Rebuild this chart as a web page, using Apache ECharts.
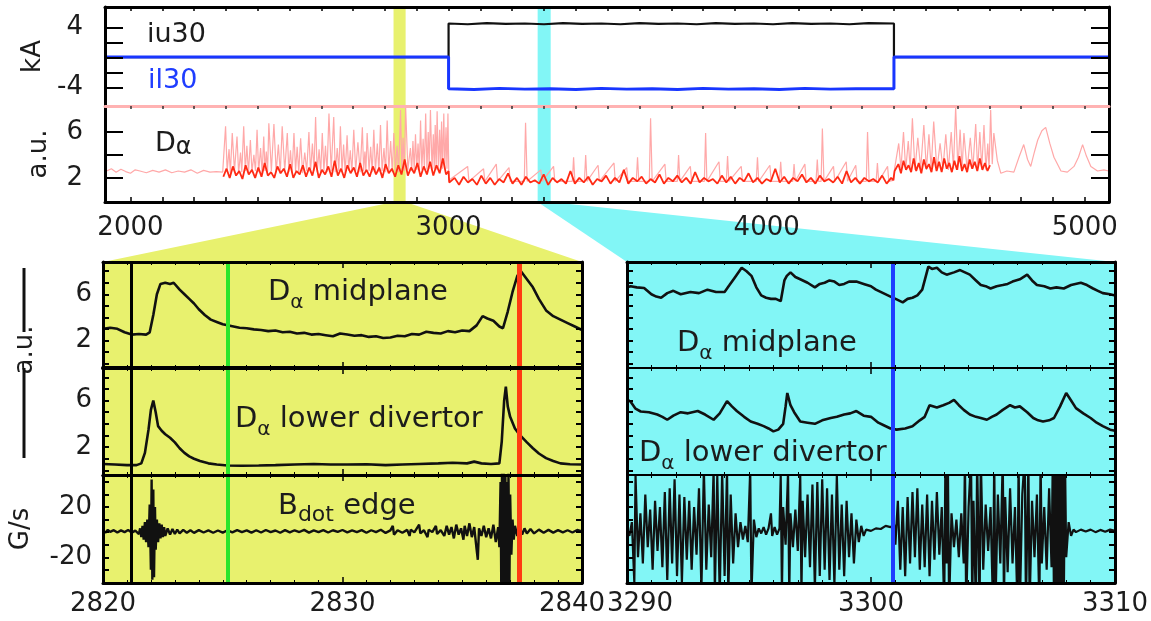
<!DOCTYPE html>
<html><head><meta charset="utf-8">
<script src="https://cdn.jsdelivr.net/npm/echarts@6/dist/echarts.min.js"></script>
<style>html,body{margin:0;padding:0;background:#fff}#c{width:1151px;height:621px}</style>
</head><body><div id="c"></div>
<script>
// ---------------- DATA ----------------
const topXTicks = [2000,2100,2200,2300,2400,2500,2600,2700,2800,2900,3000,3100,3200,3300,3400,3500,3600,3700,3800,3900,4000,4100,4200,4300,4400,4500,4600,4700,4800,4900,5000];
const topXLabels = [2000,3000,4000,5000];
const kaTicks = [-4,-2,0,2,4];
const kaLabels = [-4,4];
const daTopTicks = [2,4,6];
const daTopLabels = [2,6];
const daLowTicks = [0,1,2,3,4,5,6,7,8];
const daLowLabels = [2,6];
const bdTicks = [-40,-30,-20,-10,0,10,20,30,40];
const bdLabels = [-20,20];

const yellowBand = [2827, 2865];
const cyanBand = [3280, 3321];
const markersLeft = [2821.2, 2825.2, 2837.4];
const markersRight = [3300.9];

const iu30 = [[1920,0],[3000,0],[3000,4.5],[3060,4.4],[3120,4.55],[3180,4.45],[3240,4.5],[3300,4.4],[3360,4.55],[3420,4.45],[3480,4.5],[3540,4.4],[3600,4.55],[3660,4.45],[3720,4.5],[3780,4.4],[3840,4.55],[3900,4.45],[3960,4.5],[4020,4.4],[4080,4.55],[4140,4.45],[4200,4.5],[4260,4.4],[4320,4.55],[4400,4.5],[4400,0],[5076,0]];
const il30 = [[1920,0.05],[3000,0.05],[3000,-4.2],[3080,-4.3],[3160,-4.15],[3240,-4.25],[3320,-4.2],[3400,-4.3],[3480,-4.15],[3560,-4.25],[3640,-4.2],[3720,-4.3],[3800,-4.15],[3880,-4.25],[3960,-4.2],[4040,-4.3],[4120,-4.15],[4200,-4.25],[4280,-4.2],[4400,-4.2],[4400,0.05],[5076,0.05]];

const daTopLight = [
[1925,2.6],[1940,2.8],[1955,2.5],[1970,2.75],[1985,2.55],[2000,2.4],[2015,2.7],[2030,2.6],[2050,2.45],[2070,2.65],[2090,2.5],[2110,2.7],[2130,2.45],[2150,2.6],[2170,2.5],[2190,2.7],[2210,2.4],[2230,2.65],[2250,2.5],[2270,2.55],
[2290,2.5],[2299,6.5],[2304,2.6],[2310,4.5],[2314,2.4],[2320,5.9],[2327,2.6],[2335,5.6],[2340,2.4],[2346,4.2],[2350,2.5],[2356,6.5],[2361,2.6],[2366,4.8],[2371,2.4],[2377,5.3],[2382,2.5],[2388,4.0],[2393,2.6],[2398,6.2],[2403,2.5],[2409,4.6],[2414,2.4],[2419,5.6],[2423,2.6],[2427,4.3],[2431,2.5],[2435,6.75],[2443,2.6],[2451,6.7],[2458,2.5],[2465,4.9],[2471,2.4],[2477,6.5],[2485,2.6],[2493,5.9],[2498,2.5],[2503,4.4],[2508,2.4],[2514,5.9],[2519,2.6],[2524,4.7],[2529,2.5],[2535,5.45],[2541,2.4],[2548,4.2],[2554,2.6],[2561,6.0],[2566,2.5],[2572,5.0],[2577,2.6],[2582,7.3],[2587,2.5],[2593,4.5],[2598,2.4],[2603,5.9],[2608,2.6],[2613,4.8],[2618,2.5],[2624,7.6],[2631,2.6],[2639,7.3],[2644,2.5],[2650,4.6],[2655,2.6],[2660,6.5],[2665,2.5],[2670,4.9],[2675,2.4],[2681,5.7],[2686,2.6],[2691,4.4],[2696,2.5],[2702,6.2],[2708,2.6],[2715,5.1],[2722,2.5],[2729,6.4],[2733,2.6],[2737,4.3],[2740,2.5],[2744,5.9],[2750,2.6],[2755,4.7],[2760,2.5],[2765,6.2],[2770,2.6],[2776,5.0],[2781,2.5],[2786,6.6],[2791,2.6],[2797,4.6],[2802,2.5],[2807,7.0],[2812,2.6],[2818,5.2],[2823,2.5],[2828,5.9],[2833,2.6],[2838,4.8],[2843,2.5],[2849,7.9],[2853,2.7],[2857,5.5],[2861,2.6],[2865,8.2],[2872,2.7],[2880,4.6],[2884,2.6],[2888,5.2],[2892,2.7],[2896,5.8],[2900,2.7],[2904,5.0],[2908,2.6],[2912,7.0],[2916,2.7],[2920,5.4],[2924,2.8],[2928,7.6],[2932,2.7],[2936,6.0],[2939,2.8],[2943,7.9],[2948,2.7],[2952,5.8],[2955,2.8],[2958,6.6],[2961,2.7],[2964,7.8],[2968,2.8],[2972,6.2],[2975,2.7],[2978,6.9],[2981,2.8],[2985,7.6],[2988,2.7],[2992,6.4],[2995,2.8],[2998,7.6],[3001,1.8],
[3060,3.0],[3064,1.7],[3110,2.8],[3114,1.7],[3150,3.2],[3154,1.7],[3190,2.9],[3194,1.7],[3238,1.7],[3242,6.8],[3247,1.7],[3290,2.7],[3294,1.7],[3330,3.0],[3334,1.7],[3389,1.7],[3393,3.8],[3397,1.7],[3427,1.7],[3431,4.0],[3435,1.7],[3470,3.1],[3474,1.7],[3520,3.3],[3524,1.7],[3560,2.9],[3564,1.7],[3590,1.7],[3594,3.8],[3598,1.7],[3631,1.7],[3635,7.2],[3640,1.7],[3680,3.2],[3684,1.7],[3719,1.7],[3723,4.0],[3727,1.7],[3760,3.0],[3764,1.7],[3804,1.7],[3808,5.9],[3812,1.7],[3850,3.4],[3854,1.7],[3873,1.7],[3877,3.9],[3881,1.7],[3920,3.0],[3924,1.7],[3967,1.7],[3971,3.8],[3975,1.7],[4010,3.1],[4014,1.7],[4040,1.7],[4044,3.4],[4048,1.7],[4082,1.7],[4086,3.2],[4090,1.7],[4120,3.2],[4124,1.7],[4155,1.7],[4159,3.6],[4163,1.7],[4171,1.7],[4175,6.3],[4180,1.7],[4210,3.0],[4214,1.7],[4250,3.4],[4254,1.7],[4280,3.1],[4284,1.7],[4313,1.7],[4317,6.0],[4322,1.7],[4344,1.7],[4348,3.3],[4352,1.7],[4380,3.0],[4384,1.7],[4400,1.8],
[4402,2.8],[4415,5.0],[4422,2.8],[4430,6.0],[4437,2.7],[4445,5.2],[4451,2.8],[4458,7.2],[4466,2.7],[4475,5.5],[4484,2.8],[4494,6.6],[4502,2.7],[4510,5.8],[4517,2.8],[4525,6.9],[4535,2.7],[4545,5.0],[4554,2.8],[4563,5.8],[4571,2.7],[4580,6.0],[4587,2.8],[4594,8.2],[4601,2.7],[4608,6.2],[4614,2.8],[4620,5.9],[4630,2.7],[4640,5.5],[4648,2.8],[4657,6.7],[4663,2.7],[4670,6.0],[4676,2.8],[4683,6.6],[4689,2.7],[4695,5.0],[4699,2.8],[4704,7.9],[4709,3.2],
[4714,5.9],[4725,3.5],[4736,2.4],[4755,2.6],[4777,2.5],[4793,3.8],[4808,4.9],[4820,3.6],[4830,3.0],[4842,4.3],[4852,5.3],[4865,6.1],[4877,6.4],[4890,5.0],[4903,3.8],[4925,2.6],[4945,2.5],[4966,3.0],[4980,3.8],[4993,4.9],[5005,3.9],[5019,3.0],[5040,2.6],[5060,2.7],[5075,2.6]
];

const daTopBase = [
[2292,2.1],[2302,2.8],[2312,2.0],[2322,3.0],[2332,2.2],[2342,2.6],[2352,1.9],[2362,3.1],[2372,2.3],[2382,2.7],[2392,2.0],[2402,2.9],[2412,2.1],[2422,3.3],[2432,2.2],[2442,2.5],[2452,2.0],[2462,3.0],[2472,2.4],[2482,2.8],[2492,2.1],[2502,3.2],[2512,2.0],[2522,2.6],[2532,2.3],[2542,3.1],[2552,2.1],[2562,2.9],[2572,2.2],[2582,3.4],[2592,2.0],[2602,2.7],[2612,2.3],[2622,3.0],[2632,2.1],[2642,3.5],[2652,2.2],[2662,2.8],[2672,2.0],[2682,3.1],[2692,2.4],[2702,2.9],[2712,2.1],[2722,3.3],[2732,2.2],[2742,2.7],[2752,2.1],[2762,3.0],[2772,2.3],[2782,2.9],[2792,2.0],[2802,3.2],[2812,2.4],[2822,2.8],[2832,2.1],[2842,3.1],[2852,2.3],[2862,3.6],[2872,2.2],[2882,2.9],[2892,2.4],[2902,3.3],[2912,2.1],[2922,3.0],[2932,2.3],[2942,3.4],[2952,2.2],[2962,3.1],[2972,2.4],[2982,3.7],[2992,2.3],[3000,2.6],[3002,1.6],
[3005,1.5],[3019,2.0],[3033,1.4],[3047,2.1],[3061,1.6],[3075,1.9],[3089,1.4],[3103,2.2],[3117,1.5],[3131,2.0],[3145,1.4],[3159,1.9],[3173,1.6],[3187,2.4],[3201,1.5],[3215,2.0],[3229,1.4],[3243,2.1],[3257,1.6],[3271,1.8],[3285,1.5],[3299,2.3],[3313,1.4],[3327,2.0],[3341,1.6],[3355,1.9],[3369,1.5],[3383,2.6],[3397,1.5],[3411,2.0],[3425,1.6],[3439,2.1],[3453,1.4],[3467,1.9],[3481,1.7],[3495,2.2],[3509,1.5],[3523,2.0],[3537,1.6],[3551,2.7],[3565,1.5],[3579,2.0],[3593,1.7],[3607,2.1],[3621,1.5],[3635,1.9],[3649,1.6],[3663,2.3],[3677,1.5],[3691,2.0],[3705,1.7],[3719,2.2],[3733,1.6],[3747,2.0],[3761,1.5],[3775,2.5],[3789,1.6],[3803,2.0],[3817,1.7],[3831,1.9],[3845,1.5],[3859,2.2],[3873,1.6],[3887,2.1],[3901,1.5],[3915,2.0],[3929,1.7],[3943,2.4],[3957,1.6],[3971,2.0],[3985,1.5],[3999,1.9],[4013,1.7],[4027,2.8],[4041,1.6],[4055,2.1],[4069,1.5],[4083,2.0],[4097,1.7],[4111,2.3],[4125,1.6],[4139,2.0],[4153,1.5],[4167,2.2],[4181,1.7],[4195,1.9],[4209,1.6],[4223,2.1],[4237,1.5],[4251,2.6],[4265,1.6],[4279,2.0],[4293,1.5],[4307,2.0],[4321,1.7],[4335,1.9],[4349,1.6],[4363,2.2],[4377,1.5],[4391,2.0],[4398,1.8],[4402,2.6],
[4406,2.5],[4414,3.2],[4422,2.4],[4430,3.5],[4438,2.7],[4446,3.1],[4454,2.5],[4462,3.7],[4470,2.6],[4478,3.3],[4486,2.4],[4494,3.6],[4502,2.8],[4510,3.2],[4518,2.5],[4526,3.8],[4534,2.6],[4542,3.4],[4550,2.5],[4558,3.7],[4566,2.8],[4574,3.3],[4582,2.5],[4590,3.5],[4598,2.7],[4606,3.9],[4614,2.6],[4622,3.2],[4630,2.5],[4638,3.6],[4646,2.8],[4654,3.4],[4662,2.6],[4670,3.7],[4678,2.7],[4686,3.3],[4694,2.6],[4702,3.1]
];

const midLeft = [[2820.0,3.0],[2820.3,3.1],[2820.6,3.0],[2820.9,2.7],[2821.2,2.5],[2821.5,2.55],[2821.8,2.5],[2821.95,2.7],[2822.1,4.2],[2822.25,6.0],[2822.4,6.9],[2822.6,7.0],[2822.8,6.9],[2822.95,7.0],[2823.2,6.4],[2823.4,6.0],[2823.6,5.6],[2823.8,5.2],[2824.0,4.7],[2824.25,4.2],[2824.5,3.8],[2824.75,3.6],[2825.0,3.4],[2825.35,3.25],[2825.7,3.1],[2826.0,3.05],[2826.3,2.95],[2826.6,2.9],[2826.9,2.8],[2827.2,2.85],[2827.5,2.7],[2827.8,2.75],[2828.1,2.6],[2828.4,2.65],[2828.7,2.5],[2829.0,2.55],[2829.3,2.45],[2829.6,2.35],[2829.9,2.6],[2830.2,2.5],[2830.5,2.4],[2830.8,2.45],[2831.1,2.3],[2831.4,2.35],[2831.7,2.2],[2832.0,2.25],[2832.3,2.4],[2832.6,2.35],[2832.9,2.55],[2833.2,2.5],[2833.5,2.75],[2833.8,2.65],[2834.1,2.6],[2834.4,2.8],[2834.7,2.7],[2835.0,2.85],[2835.3,2.8],[2835.6,3.3],[2835.85,4.1],[2836.05,3.9],[2836.3,3.7],[2836.55,3.2],[2836.7,3.05],[2836.9,4.5],[2837.1,6.2],[2837.3,7.6],[2837.45,8.0],[2837.7,7.3],[2837.95,6.6],[2838.2,5.6],[2838.5,4.6],[2838.8,4.1],[2839.1,3.8],[2839.4,3.5],[2839.7,3.2],[2840.0,2.9]];

const divLeft = [[2820.0,0.55],[2820.5,0.5],[2821.0,0.45],[2821.4,0.45],[2821.6,0.6],[2821.75,1.5],[2821.9,3.5],[2822.0,5.2],[2822.1,6.0],[2822.2,5.0],[2822.3,3.8],[2822.45,3.4],[2822.6,3.1],[2822.8,2.8],[2823.0,2.4],[2823.2,1.9],[2823.4,1.5],[2823.6,1.2],[2823.8,1.0],[2824.05,0.8],[2824.4,0.6],[2824.75,0.5],[2825.2,0.42],[2825.8,0.4],[2826.5,0.42],[2827.2,0.45],[2828,0.5],[2828.8,0.55],[2829.5,0.5],[2830.2,0.5],[2831,0.52],[2831.8,0.45],[2832.5,0.5],[2833.2,0.55],[2834,0.6],[2834.6,0.65],[2835.2,0.6],[2835.5,0.75],[2835.8,0.6],[2836.2,0.55],[2836.55,0.6],[2836.65,2.5],[2836.75,6.0],[2836.82,7.2],[2836.9,5.5],[2837.0,4.6],[2837.2,3.6],[2837.4,3.05],[2837.7,2.4],[2837.95,1.9],[2838.2,1.45],[2838.5,1.05],[2838.8,0.8],[2839.1,0.6],[2839.5,0.52],[2840,0.5]];

const bdotLeft = [[2820.0,1.5],[2820.1,-0.5],[2820.2,1.8],[2820.3,0.2],[2820.45,1.6],[2820.6,-0.3],[2820.75,1.4],[2820.9,0],[2821.05,1.7],[2821.2,-0.4],[2821.35,1.2],[2821.5,-1.5],[2821.55,3],[2821.6,-4],[2821.65,5],[2821.7,-6],[2821.75,8],[2821.8,-8],[2821.85,10],[2821.9,-12],[2821.95,22],[2822.0,-30],[2822.03,42],[2822.06,-38],[2822.1,34],[2822.13,-36],[2822.17,20],[2822.2,-14],[2822.25,10],[2822.3,-8],[2822.35,7],[2822.4,-5],[2822.45,6],[2822.5,-4],[2822.55,4],[2822.6,-3],[2822.7,3],[2822.8,-2],[2822.9,2.5],[2823.0,-1.5],[2823.1,2],[2823.2,-1],[2823.35,1.8],[2823.5,-0.5],[2823.65,1.5],[2823.8,-0.6],[2824,1.6],[2824.2,-0.3],[2824.4,1.4],[2824.6,-0.5],[2824.8,1.3],[2825,-0.4],[2825.2,1.5],[2825.4,-0.2],[2825.6,1.6],[2825.8,0],[2826,1.4],[2826.2,-0.4],[2826.4,1.5],[2826.6,-0.3],[2826.8,1.7],[2827,0],[2827.2,1.3],[2827.4,-0.5],[2827.6,1.6],[2827.8,-0.2],[2828,1.5],[2828.2,0.1],[2828.4,1.8],[2828.6,-0.4],[2828.8,1.4],[2829,0],[2829.2,1.6],[2829.4,-0.3],[2829.6,1.5],[2829.8,0.2],[2830,1.7],[2830.2,-0.2],[2830.4,1.4],[2830.6,0],[2830.8,1.6],[2831,-0.5],[2831.2,1.5],[2831.4,0],[2831.6,1.9],[2831.8,-0.6],[2832,1.4],[2832.1,5],[2832.15,-2],[2832.3,1.5],[2832.5,-0.5],[2832.7,1.8],[2832.8,-3],[2832.85,2],[2833.0,-0.2],[2833.2,6],[2833.25,-1],[2833.4,1.5],[2833.55,-4],[2833.6,2],[2833.75,0],[2833.9,5],[2833.95,-1.5],[2834.1,1.6],[2834.25,-3],[2834.35,5],[2834.45,-2],[2834.55,4],[2834.65,-5],[2834.75,6],[2834.85,-2],[2834.95,3],[2835.05,-6],[2835.1,5],[2835.2,-3],[2835.3,7],[2835.4,-4],[2835.5,4],[2835.6,-14],[2835.65,-22],[2835.7,3],[2835.8,-3],[2835.9,5],[2836.0,-4],[2836.1,3],[2836.2,-5],[2836.3,6],[2836.4,-8],[2836.5,4],[2836.55,-12],[2836.6,40],[2836.63,-45],[2836.66,48],[2836.7,-48],[2836.73,50],[2836.77,-48],[2836.8,46],[2836.83,-42],[2836.87,40],[2836.9,-46],[2836.93,48],[2836.97,-40],[2837.0,30],[2837.05,-18],[2837.1,10],[2837.15,-6],[2837.2,5],[2837.3,-3],[2837.4,4],[2837.5,-2],[2837.6,3],[2837.7,-1],[2837.85,2.5],[2838.0,-1],[2838.2,2],[2838.4,-0.5],[2838.6,1.8],[2838.8,-0.4],[2839,1.6],[2839.2,-0.2],[2839.4,1.5],[2839.6,-0.3],[2839.8,1.7],[2840,0.5]];

const midRight = [[3290.0,6.6],[3290.15,6.7],[3290.4,6.6],[3290.7,6.55],[3291.0,6.0],[3291.2,5.8],[3291.4,5.7],[3291.65,6.1],[3291.9,6.3],[3292.2,6.0],[3292.6,6.2],[3292.95,6.1],[3293.3,6.4],[3293.65,6.2],[3294.0,6.2],[3294.2,6.8],[3294.4,7.4],[3294.7,8.3],[3294.9,8.0],[3295.1,7.6],[3295.3,6.6],[3295.5,5.9],[3295.7,5.7],[3295.9,5.6],[3296.1,5.6],[3296.3,5.4],[3296.45,7.2],[3296.55,7.6],[3296.7,7.9],[3296.9,7.5],[3297.1,7.3],[3297.4,7.0],[3297.7,6.6],[3297.9,6.9],[3298.1,7.0],[3298.3,7.2],[3298.5,7.1],[3298.7,6.8],[3298.9,6.9],[3299.1,7.1],[3299.4,7.1],[3299.7,6.9],[3300.0,6.7],[3300.2,6.4],[3300.5,6.1],[3300.8,5.8],[3301.05,5.55],[3301.3,5.3],[3301.5,5.6],[3301.7,5.7],[3301.9,5.9],[3302.1,6.4],[3302.25,7.6],[3302.35,8.4],[3302.5,8.2],[3302.7,8.3],[3302.9,7.9],[3303.1,7.7],[3303.4,7.9],[3303.65,8.1],[3303.85,7.9],[3304.05,7.7],[3304.3,7.2],[3304.5,6.8],[3304.7,6.7],[3304.9,6.5],[3305.15,6.7],[3305.4,6.8],[3305.6,6.9],[3305.8,7.1],[3306.1,7.3],[3306.4,7.7],[3306.6,7.2],[3306.8,6.8],[3307.1,6.7],[3307.35,6.5],[3307.6,6.6],[3307.9,6.5],[3308.2,6.8],[3308.6,7.0],[3308.85,6.8],[3309.1,6.5],[3309.3,6.3],[3309.5,6.1],[3309.8,6.0],[3310,5.9]];

const divRight = [[3290.0,6.1],[3290.15,5.9],[3290.35,5.3],[3290.56,5.06],[3290.9,5.0],[3291.24,4.8],[3291.45,4.6],[3291.65,4.35],[3291.9,4.7],[3292.2,5.0],[3292.5,4.9],[3292.9,5.1],[3293.2,4.8],[3293.55,4.35],[3293.8,4.9],[3294.1,5.95],[3294.3,5.5],[3294.5,5.1],[3294.8,4.6],[3295.07,4.2],[3295.35,4.0],[3295.6,3.8],[3295.8,3.6],[3296.0,3.35],[3296.2,3.5],[3296.4,4.0],[3296.5,5.5],[3296.57,6.65],[3296.7,5.6],[3296.85,5.0],[3297.1,4.2],[3297.4,4.1],[3297.7,4.0],[3298.0,4.3],[3298.35,4.5],[3298.6,4.6],[3298.9,4.8],[3299.15,4.9],[3299.4,5.1],[3299.7,4.7],[3300.0,4.6],[3300.3,4.1],[3300.5,3.9],[3300.8,3.6],[3301.05,3.5],[3301.4,3.6],[3301.7,3.8],[3302.0,4.3],[3302.2,4.6],[3302.4,5.6],[3302.7,5.4],[3302.96,5.6],[3303.2,5.8],[3303.4,6.05],[3303.6,5.6],[3303.8,5.2],[3304.05,4.8],[3304.3,4.6],[3304.5,4.5],[3304.75,4.35],[3304.95,4.6],[3305.15,4.8],[3305.4,5.2],[3305.7,5.6],[3305.9,5.4],[3306.1,5.5],[3306.4,5.0],[3306.65,4.5],[3306.85,4.3],[3307.05,4.2],[3307.3,4.3],[3307.5,4.5],[3307.75,5.5],[3308.0,6.65],[3308.2,6.0],[3308.4,5.35],[3308.7,4.9],[3309.0,4.5],[3309.25,4.1],[3309.5,3.8],[3309.8,3.5],[3310,3.4]];

const bdotRight = [[3290.0,2],[3290.1,-3],[3290.2,8],[3290.3,-40],[3290.35,45],[3290.45,-20],[3290.55,15],[3290.65,-25],[3290.75,30],[3290.85,-12],[3290.95,18],[3291.05,-30],[3291.15,25],[3291.25,-15],[3291.35,20],[3291.45,-28],[3291.55,32],[3291.65,-38],[3291.75,35],[3291.85,-25],[3291.95,42],[3292.05,-35],[3292.15,30],[3292.25,-40],[3292.35,28],[3292.45,-22],[3292.55,25],[3292.65,-30],[3292.75,20],[3292.85,-18],[3292.95,35],[3293.05,-45],[3293.15,50],[3293.25,-30],[3293.35,22],[3293.45,-20],[3293.55,50],[3293.6,-48],[3293.7,45],[3293.8,-50],[3293.9,48],[3294.0,-35],[3294.1,50],[3294.15,-50],[3294.25,30],[3294.35,-25],[3294.45,15],[3294.55,-12],[3294.65,8],[3294.75,-6],[3294.85,5],[3294.95,-8],[3295.05,50],[3295.1,-50],[3295.2,10],[3295.3,-4],[3295.4,3],[3295.5,-1],[3295.6,4],[3295.7,-2],[3295.8,3],[3295.9,15],[3295.95,-3],[3296.05,4],[3296.15,-2],[3296.25,3],
[3296.3,45],[3296.35,-48],[3296.4,20],[3296.5,-10],[3296.6,48],[3296.65,-50],[3296.7,15],[3296.8,-12],[3296.9,18],[3297.0,-15],[3297.1,45],[3297.15,-48],[3297.2,25],[3297.3,-20],[3297.4,30],[3297.5,-28],[3297.6,38],[3297.7,-45],[3297.8,40],[3297.9,-35],[3298.0,42],[3298.1,-30],[3298.2,35],[3298.3,-38],[3298.4,30],[3298.5,-42],[3298.6,45],[3298.7,-30],[3298.8,22],[3298.9,-35],[3299.0,25],[3299.1,-20],[3299.2,15],[3299.3,-25],[3299.4,10],[3299.5,-8],[3299.6,5],[3299.7,-3],
[3299.8,2],[3300.0,1],[3300.2,3],[3300.4,2.5],[3300.6,5],[3300.8,4],[3300.95,6],
[3301.0,-10],[3301.1,25],[3301.2,-30],[3301.3,20],[3301.4,-35],[3301.5,28],[3301.6,-25],[3301.7,32],[3301.8,-20],[3301.9,35],[3302.0,-30],[3302.1,22],[3302.2,-28],[3302.3,30],[3302.4,-35],[3302.5,25],[3302.6,-22],[3302.7,32],[3302.8,-18],[3302.9,20],[3303.0,-60],[3303.05,60],[3303.1,-25],[3303.15,60],[3303.2,-60],[3303.3,15],[3303.4,-12],[3303.5,10],[3303.6,-20],[3303.7,15],[3303.8,-25],[3303.85,60],[3303.9,-60],[3304.0,20],[3304.1,60],[3304.15,-60],[3304.2,25],[3304.3,-60],[3304.35,60],[3304.45,-60],[3304.5,60],[3304.6,-30],[3304.7,22],[3304.8,-15],[3304.9,20],[3305.0,-60],[3305.05,60],[3305.1,-60],[3305.2,30],[3305.3,-25],[3305.4,60],[3305.45,-60],[3305.5,28],[3305.6,-32],[3305.7,35],[3305.8,-25],[3305.9,20],[3306.0,-60],[3306.05,60],[3306.1,-60],[3306.2,30],[3306.3,60],[3306.35,-60],[3306.45,60],[3306.5,-60],[3306.6,25],[3306.7,-20],[3306.8,30],[3306.9,-60],[3306.95,60],[3307.0,-25],[3307.1,20],[3307.2,-30],[3307.3,35],[3307.4,-28],[3307.45,60],[3307.5,-60],[3307.55,60],[3307.6,-60],[3307.65,60],[3307.7,-60],[3307.75,60],[3307.8,-60],[3307.85,60],[3307.9,-60],[3307.95,60],[3308.0,-20],[3308.1,8],[3308.2,-3],[3308.3,2],
[3308.4,0],[3308.6,2],[3308.8,0.5],[3309,2],[3309.2,0],[3309.4,1.8],[3309.6,0.3],[3309.8,2],[3310,1]];

// ---------------- LAYOUT / STYLE ----------------
const FONT = 'DejaVu Sans';
const TXT = '#1c1c1c';
const YEL = '#e8f16e', CYA = '#82f6f6';
const L = {topL:105, topR:1109, t0:7, t1:106, t2:202, lowT:[262,368,475,583], lgL:103, lgR:582, rgL:627, rgR:1115};

const chart = echarts.init(document.getElementById('c'), null, {width:1151, height:621});

function grid(left, right, top, bottom, bg) {
  return {left:left, top:top, width:right-left, height:bottom-top, show: !!bg, backgroundColor: bg || 'transparent', borderWidth:0, containLabel:false, outerBoundsMode:'none'};
}
const grids = [
  grid(L.topL, L.topR, L.t0, L.t1),
  grid(L.topL, L.topR, L.t1, L.t2),
  grid(L.lgL, L.lgR, L.lowT[0], L.lowT[1], YEL),
  grid(L.lgL, L.lgR, L.lowT[1], L.lowT[2], YEL),
  grid(L.lgL, L.lgR, L.lowT[2], L.lowT[3], YEL),
  grid(L.rgL, L.rgR, L.lowT[0], L.lowT[1], CYA),
  grid(L.rgL, L.rgR, L.lowT[1], L.lowT[2], CYA),
  grid(L.rgL, L.rgR, L.lowT[2], L.lowT[3], CYA)
];

function ax(o) {
  const base = {type:'value', splitLine:{show:false}, minorSplitLine:{show:false}, axisLabel:{show:false}, axisTick:{show:false}, minorTick:{show:false}, z:5};
  return Object.assign(base, o);
}
function line(color, width) { return {show:true, onZero:false, lineStyle:{color:color, width:width}}; }
const labStyle = {color:TXT, fontFamily:FONT, fontSize:26};
const plain = v => String(v);

const TMIN = 1920, TMAX = 5076;
const xAxes = [
  ax({gridIndex:0, min:TMIN, max:TMAX, position:'top', axisLine:line('#000',3), axisTick:{show:true, inside:true, length:4, customValues:topXTicks, lineStyle:{color:'#000', width:1.5}}}),
  ax({gridIndex:1, min:TMIN, max:TMAX, position:'bottom', axisLine:line('#000',3), axisTick:{show:true, inside:true, length:5, customValues:topXTicks, lineStyle:{color:'#000', width:1.5}}, axisLabel:Object.assign({show:true, margin:13, customValues:topXLabels, formatter:plain}, labStyle)}),
  ax({gridIndex:1, min:TMIN, max:TMAX, position:'top', axisLine:line('#ffb2b2',3), axisTick:{show:true, inside:true, length:3, customValues:topXTicks, lineStyle:{color:'#333', width:1.5}}})
];
function lowX(gi, min, max, pos, lw, labels, fmt) {
  const o = {gridIndex:gi, min:min, max:max, interval:10, position:pos, axisLine:line('#000',lw),
    axisTick:{show:true, inside:true, length:6, lineStyle:{color:'#000', width:1.5}},
    minorTick:{show:true, splitNumber:10, length:3, lineStyle:{color:'#000', width:1}}};
  if (labels) o.axisLabel = Object.assign({show:true, margin:8, formatter:fmt, rich:{l:{fontFamily:FONT, fontSize:26, color:TXT, padding:[0,0,0,26]}, r:{fontFamily:FONT, fontSize:26, color:TXT, padding:[0,20,0,0]}}}, labStyle);
  return ax(o);
}
const fmtLeft = v => v === 2840 ? '{r|2840}' : String(v);
const fmtRight = v => v === 3290 ? '{l|3290}' : String(v);
xAxes.push(
  lowX(2, 2820, 2840, 'top', 3), lowX(2, 2820, 2840, 'bottom', 4),
  lowX(3, 2820, 2840, 'top', 3), lowX(3, 2820, 2840, 'bottom', 3),
  lowX(4, 2820, 2840, 'top', 3), lowX(4, 2820, 2840, 'bottom', 3, true, fmtLeft),
  lowX(5, 3290, 3310, 'top', 3), lowX(5, 3290, 3310, 'bottom', 2),
  lowX(6, 3290, 3310, 'top', 2), lowX(6, 3290, 3310, 'bottom', 2),
  lowX(7, 3290, 3310, 'top', 2), lowX(7, 3290, 3310, 'bottom', 3, true, fmtRight)
);

function yAx(gi, min, max, pos, lw, ticks, tickLen, labels, margin, name, nameGap) {
  const o = {gridIndex:gi, min:min, max:max, position:pos, axisLine:line('#000',lw),
    axisTick:{show:true, inside:true, length:tickLen, customValues:ticks, lineStyle:{color:'#000', width:2}}};
  if (labels) o.axisLabel = Object.assign({show:true, margin:margin, customValues:labels, formatter:plain}, labStyle);
  if (name) { o.name = name; o.nameLocation = 'middle'; o.nameRotate = 90; o.nameGap = nameGap; o.nameTextStyle = {fontFamily:FONT, fontSize:26, color:TXT}; }
  return ax(o);
}
const yAxes = [
  yAx(0, -6.5, 6.7, 'left', 3, kaTicks, 18, kaLabels, 22, 'kA', 55),
  yAx(0, -6.5, 6.7, 'right', 3, kaTicks, 18),
  yAx(1, -0.1, 8.26, 'left', 3, daTopTicks, 18, daTopLabels, 22, 'a.u.', 53),
  yAx(1, -0.1, 8.26, 'right', 3, daTopTicks, 18),
  yAx(2, -0.4, 8.8, 'left', 3, daLowTicks, 6, daLowLabels, 11),
  yAx(2, -0.4, 8.8, 'right', 3, daLowTicks, 6),
  yAx(3, -0.4, 8.8, 'left', 3, daLowTicks, 6, daLowLabels, 11),
  yAx(3, -0.4, 8.8, 'right', 3, daLowTicks, 6),
  yAx(4, -40.5, 45.5, 'left', 3, bdTicks, 6, bdLabels, 11, 'G/s', 69),
  yAx(4, -40.5, 45.5, 'right', 3, bdTicks, 6),
  yAx(5, -0.4, 8.8, 'left', 3, daLowTicks, 6),
  yAx(5, -0.4, 8.8, 'right', 3, daLowTicks, 6),
  yAx(6, -0.4, 8.8, 'left', 3, daLowTicks, 6),
  yAx(6, -0.4, 8.8, 'right', 3, daLowTicks, 6),
  yAx(7, -40.5, 45.5, 'left', 3, bdTicks, 6),
  yAx(7, -40.5, 45.5, 'right', 3, bdTicks, 6)
];

function ser(data, xi, yi, color, width, z, extra) {
  return Object.assign({type:'line', data:data, xAxisIndex:xi, yAxisIndex:yi, showSymbol:false, symbol:'none', animation:false, silent:true, clip:true, z:z,
    lineStyle:{color:color, width:width}}, extra || {});
}
const leftMarkerStyles = [{color:'#000000', width:3}, {color:'#2be52b', width:4}, {color:'#ff3b12', width:5}];
const rightMarkerStyles = [{color:'#1f3dff', width:4}];
function markers(times, styles) {
  return {markLine:{silent:true, symbol:['none','none'], animation:false, label:{show:false},
    data: times.map((t, i) => ({xAxis:t, lineStyle:Object.assign({type:'solid'}, styles[i])}))}};
}
function bands(xi, yi) {
  return ser([], xi, yi, '#000', 0, 1, {markArea:{silent:true, animation:false,
    data:[[{xAxis:yellowBand[0], itemStyle:{color:YEL}}, {xAxis:yellowBand[1]}], [{xAxis:cyanBand[0], itemStyle:{color:CYA}}, {xAxis:cyanBand[1]}]]}});
}

const series = [
  bands(0, 0), bands(1, 2),
  ser(iu30, 0, 0, '#111', 2.2, 3),
  ser(il30, 0, 0, '#1836ff', 3, 4),
  ser(daTopLight, 1, 2, '#ffa8a8', 1.2, 3),
  ser(daTopBase, 1, 2, '#ff2a14', 1.8, 4),
  ser(midLeft, 4, 4, '#111', 2.6, 3, markers(markersLeft, leftMarkerStyles)),
  ser(divLeft, 6, 6, '#111', 2.6, 3, markers(markersLeft, leftMarkerStyles)),
  ser(bdotLeft, 8, 8, '#111', 2.4, 3, markers(markersLeft, leftMarkerStyles)),
  ser(midRight, 10, 10, '#111', 2.6, 3, markers(markersRight, rightMarkerStyles)),
  ser(divRight, 12, 12, '#111', 2.6, 3, markers(markersRight, rightMarkerStyles)),
  ser(bdotRight, 14, 14, '#111', 2.2, 3, markers(markersRight, rightMarkerStyles))
];

chart.setOption({animation:false, textStyle:{fontFamily:FONT}, grid:grids, xAxis:xAxes, yAxis:yAxes, series:series});

// ---------------- ANNOTATIONS & CONNECTORS ----------------
function txt(x, y, text, rich, fill) {
  return {type:'text', x:x, y:y, z:20, silent:true, style:{text:text, rich:rich, fill:fill || TXT, font:'26px "' + FONT + '"', verticalAlign:'top', align:'left'}};
}
function subRich(main, sub, subLH) {
  return {D:{fontFamily:FONT, fontSize:main, lineHeight:main, verticalAlign:'top', fill:TXT},
          a:{fontFamily:FONT, fontSize:sub, lineHeight:subLH, verticalAlign:'bottom', fill:TXT},
          t:{fontFamily:FONT, fontSize:main, lineHeight:main, verticalAlign:'top', fill:TXT}};
}
const px = v => chart.convertToPixel({xAxisIndex:1}, v);
const richLow = subRich(29, 20, 35);
const graphics = [
  {type:'polygon', z:-10, silent:true, shape:{points:[[px(yellowBand[0]), L.t2], [px(yellowBand[1]), L.t2], [L.lgR, L.lowT[0]], [L.lgL, L.lowT[0]]]}, style:{fill:YEL}},
  {type:'polygon', z:-10, silent:true, shape:{points:[[px(cyanBand[0]), L.t2], [px(cyanBand[1]), L.t2], [L.rgR, L.lowT[0]], [L.rgL, L.lowT[0]]]}, style:{fill:CYA}},
  txt(147, 21, '{t|iu30}', {t:{fontFamily:FONT, fontSize:27, fill:TXT}}),
  txt(148, 67, '{t|il30}', {t:{fontFamily:FONT, fontSize:27, fill:'#1f3dff'}}),
  txt(155, 130, '{D|D}{a|α}', subRich(27, 24, 30)),
  txt(268, 278, '{D|D}{a|α}{t| midplane}', richLow),
  txt(235, 405, '{D|D}{a|α}{t| lower divertor}', richLow),
  txt(278, 492, '{D|B}{a|dot}{t| edge}', subRich(29, 22, 34)),
  txt(677, 329, '{D|D}{a|α}{t| midplane}', richLow),
  txt(639, 439, '{D|D}{a|α}{t| lower divertor}', richLow),
  {type:'text', x:25, y:350, rotation:Math.PI/2, z:20, silent:true, style:{text:'a.u.', fill:TXT, font:'26px "' + FONT + '"', align:'center', verticalAlign:'middle'}},
  {type:'line', z:20, silent:true, shape:{x1:24, y1:268, x2:24, y2:332}, style:{stroke:'#111', lineWidth:3}},
  {type:'line', z:20, silent:true, shape:{x1:24, y1:368, x2:24, y2:458}, style:{stroke:'#111', lineWidth:3}}
];
chart.setOption({graphic:graphics});
</script></body></html>
